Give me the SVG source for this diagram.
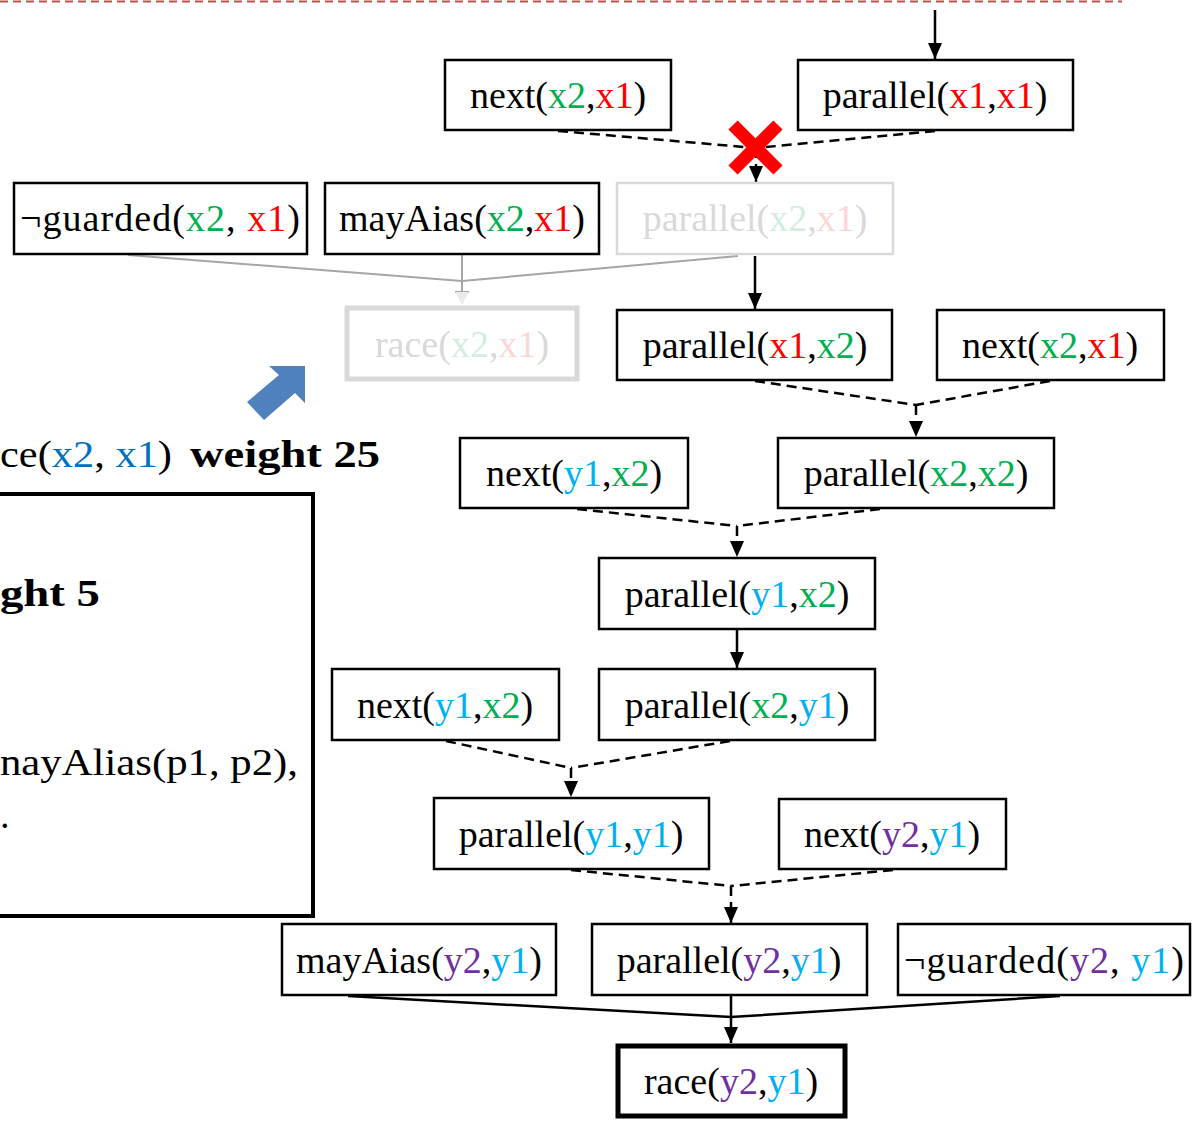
<svg xmlns="http://www.w3.org/2000/svg" width="1192" height="1124" viewBox="0 0 1192 1124">
<style>
  text { font-family: "Liberation Serif", "Times New Roman", serif; font-size: 38px; fill: #000; }
  .lbl { text-anchor: middle; }
  .box { fill: #fff; stroke: #000; stroke-width: 2.5; }
  .fbox { fill: #fff; stroke: #d9d9d9; stroke-width: 2.5; }
  .fbox2 { fill: #fff; stroke: #d9d9d9; stroke-width: 5; }
  .rbox { fill: #fff; stroke: #000; stroke-width: 5; }
  .g { fill: #00B050; } .r { fill: #FF0000; } .c { fill: #00B0F0; } .p { fill: #7030A0; } .b { fill: #0070C0; }
  .fg { fill: #d3ede0; } .fr { fill: #ffd6d6; } .ft { fill: #d9d9d9; }
  .solid { fill: none; stroke: #000; stroke-width: 2.5; }
  .dash { fill: none; stroke: #000; stroke-width: 2.5; stroke-dasharray: 10 6; }
  .gray { fill: none; stroke: #a6a6a6; stroke-width: 2; }
  .bold { font-weight: bold; }
</style>
<defs>
  <marker id="ah" markerUnits="userSpaceOnUse" viewBox="0 0 16 14" refX="16" refY="7" markerWidth="16" markerHeight="14" orient="auto">
    <path d="M0,0 L16,7 L0,14 z" fill="#000"/>
  </marker>
</defs>

<!-- top red dashed line -->
<line x1="0" y1="1.5" x2="1122" y2="1.5" stroke="#C0504D" stroke-width="2" stroke-dasharray="8 5"/>

<!-- left panel -->
<g id="left-panel">
  <text x="0" y="467" font-size="40" textLength="172" lengthAdjust="spacingAndGlyphs">ce(<tspan class="b">x2</tspan>, <tspan class="b">x1</tspan>)</text>
  <text x="190" y="467" class="bold" font-size="40" textLength="190" lengthAdjust="spacingAndGlyphs">weight 25</text>
  <rect x="-10" y="494" width="323" height="422" fill="none" stroke="#000" stroke-width="4"/>
  <text x="0" y="606" class="bold" font-size="40" textLength="100" lengthAdjust="spacingAndGlyphs">ght 5</text>
  <text x="0" y="775" font-size="40" textLength="298" lengthAdjust="spacingAndGlyphs">nayAlias(p1, p2),</text>
  <text x="0" y="828" font-size="40">.</text>
  <polygon points="305,366 305,403 295,393 264,420 247,402 279,375 269,366" fill="#4F81BD"/>
</g>

<!-- connectors -->
<g id="connectors">
  <line class="solid" x1="935" y1="10" x2="935" y2="59" marker-end="url(#ah)"/>
  <polyline class="dash" points="558,131 756,148"/>
  <polyline class="dash" points="935,131 756,148"/>
  <line class="dash" x1="756" y1="148" x2="756" y2="182" marker-end="url(#ah)"/>

  <polyline class="gray" points="128,255 462,281 738,256"/>
  <line class="gray" x1="462" y1="255" x2="462" y2="292"/>
  <line class="gray" x1="455" y1="292" x2="469" y2="292"/>
  <path d="M455,292 L469,292 L462,305 z" fill="#ebebeb"/>

  <line class="solid" x1="755" y1="256" x2="755" y2="309" marker-end="url(#ah)"/>

  <polyline class="dash" points="755,381 916,405"/>
  <polyline class="dash" points="1050,381 916,405"/>
  <line class="dash" x1="916" y1="405" x2="916" y2="437" marker-end="url(#ah)"/>

  <polyline class="dash" points="577,509 737,526"/>
  <polyline class="dash" points="880,509 737,526"/>
  <line class="dash" x1="737" y1="526" x2="737" y2="557" marker-end="url(#ah)"/>

  <line class="solid" x1="737" y1="630" x2="737" y2="668" marker-end="url(#ah)"/>

  <polyline class="dash" points="446,741 571,768"/>
  <polyline class="dash" points="730,741 571,768"/>
  <line class="dash" x1="571" y1="768" x2="571" y2="797" marker-end="url(#ah)"/>

  <polyline class="dash" points="571,870 731,886"/>
  <polyline class="dash" points="893,870 731,886"/>
  <line class="dash" x1="731" y1="886" x2="731" y2="923" marker-end="url(#ah)"/>

  <polyline class="solid" points="348,996 731,1017 1060,996"/>
  <line class="solid" x1="731" y1="996" x2="731" y2="1043" marker-end="url(#ah)"/>

  <!-- red cross -->
  <g stroke="#FF0000" stroke-width="13" stroke-linecap="butt">
    <line x1="733" y1="125" x2="778" y2="170"/>
    <line x1="778" y1="125" x2="733" y2="170"/>
  </g>
</g>

<!-- nodes -->
<g id="n-next-x2-x1-top">
  <rect class="box" x="445" y="60" width="226" height="70"/>
  <text class="lbl" x="558" y="108">next(<tspan class="g">x2</tspan>,<tspan class="r">x1</tspan>)</text>
</g>
<g id="n-parallel-x1-x1">
  <rect class="box" x="798" y="60" width="275" height="70"/>
  <text class="lbl" x="935" y="108">parallel(<tspan class="r">x1</tspan>,<tspan class="r">x1</tspan>)</text>
</g>
<g id="n-notguarded-x2-x1">
  <rect class="box" x="14" y="183" width="293" height="71"/>
  <text class="lbl" x="160" y="231" textLength="280">¬guarded(<tspan class="g">x2</tspan>, <tspan class="r">x1</tspan>)</text>
</g>
<g id="n-mayalias-x2-x1">
  <rect class="box" x="325" y="183" width="274" height="71"/>
  <text class="lbl" x="462" y="231">mayAias(<tspan class="g">x2</tspan>,<tspan class="r">x1</tspan>)</text>
</g>
<g id="n-parallel-x2-x1-faded">
  <rect class="fbox" x="617" y="183" width="276" height="71"/>
  <text class="lbl ft" x="755" y="231">parallel(<tspan class="fg">x2</tspan>,<tspan class="fr">x1</tspan>)</text>
</g>
<g id="n-race-x2-x1-faded">
  <rect class="fbox2" x="347" y="308" width="230" height="71"/>
  <text class="lbl ft" x="462" y="357">race(<tspan class="fg">x2</tspan>,<tspan class="fr">x1</tspan>)</text>
</g>
<g id="n-parallel-x1-x2">
  <rect class="box" x="617" y="310" width="275" height="70"/>
  <text class="lbl" x="755" y="358">parallel(<tspan class="r">x1</tspan>,<tspan class="g">x2</tspan>)</text>
</g>
<g id="n-next-x2-x1">
  <rect class="box" x="937" y="310" width="227" height="70"/>
  <text class="lbl" x="1050" y="358">next(<tspan class="g">x2</tspan>,<tspan class="r">x1</tspan>)</text>
</g>
<g id="n-next-y1-x2-a">
  <rect class="box" x="460" y="438" width="228" height="70"/>
  <text class="lbl" x="574" y="486">next(<tspan class="c">y1</tspan>,<tspan class="g">x2</tspan>)</text>
</g>
<g id="n-parallel-x2-x2">
  <rect class="box" x="778" y="438" width="276" height="70"/>
  <text class="lbl" x="916" y="486">parallel(<tspan class="g">x2</tspan>,<tspan class="g">x2</tspan>)</text>
</g>
<g id="n-parallel-y1-x2">
  <rect class="box" x="599" y="558" width="276" height="71"/>
  <text class="lbl" x="737" y="607">parallel(<tspan class="c">y1</tspan>,<tspan class="g">x2</tspan>)</text>
</g>
<g id="n-next-y1-x2-b">
  <rect class="box" x="332" y="669" width="227" height="71"/>
  <text class="lbl" x="445" y="718">next(<tspan class="c">y1</tspan>,<tspan class="g">x2</tspan>)</text>
</g>
<g id="n-parallel-x2-y1">
  <rect class="box" x="599" y="669" width="276" height="71"/>
  <text class="lbl" x="737" y="718">parallel(<tspan class="g">x2</tspan>,<tspan class="c">y1</tspan>)</text>
</g>
<g id="n-parallel-y1-y1">
  <rect class="box" x="434" y="798" width="275" height="71"/>
  <text class="lbl" x="571" y="847">parallel(<tspan class="c">y1</tspan>,<tspan class="c">y1</tspan>)</text>
</g>
<g id="n-next-y2-y1">
  <rect class="box" x="779" y="799" width="227" height="70"/>
  <text class="lbl" x="892" y="847">next(<tspan class="p">y2</tspan>,<tspan class="c">y1</tspan>)</text>
</g>
<g id="n-mayalias-y2-y1">
  <rect class="box" x="282" y="924" width="274" height="71"/>
  <text class="lbl" x="419" y="973">mayAias(<tspan class="p">y2</tspan>,<tspan class="c">y1</tspan>)</text>
</g>
<g id="n-parallel-y2-y1">
  <rect class="box" x="592" y="924" width="275" height="71"/>
  <text class="lbl" x="729" y="973">parallel(<tspan class="p">y2</tspan>,<tspan class="c">y1</tspan>)</text>
</g>
<g id="n-notguarded-y2-y1">
  <rect class="box" x="898" y="924" width="292" height="71"/>
  <text class="lbl" x="1044" y="973" textLength="280">¬guarded(<tspan class="p">y2</tspan>, <tspan class="c">y1</tspan>)</text>
</g>
<g id="n-race-y2-y1">
  <rect class="rbox" x="618" y="1046" width="227" height="70"/>
  <text class="lbl" x="731" y="1094">race(<tspan class="p">y2</tspan>,<tspan class="c">y1</tspan>)</text>
</g>
</svg>
